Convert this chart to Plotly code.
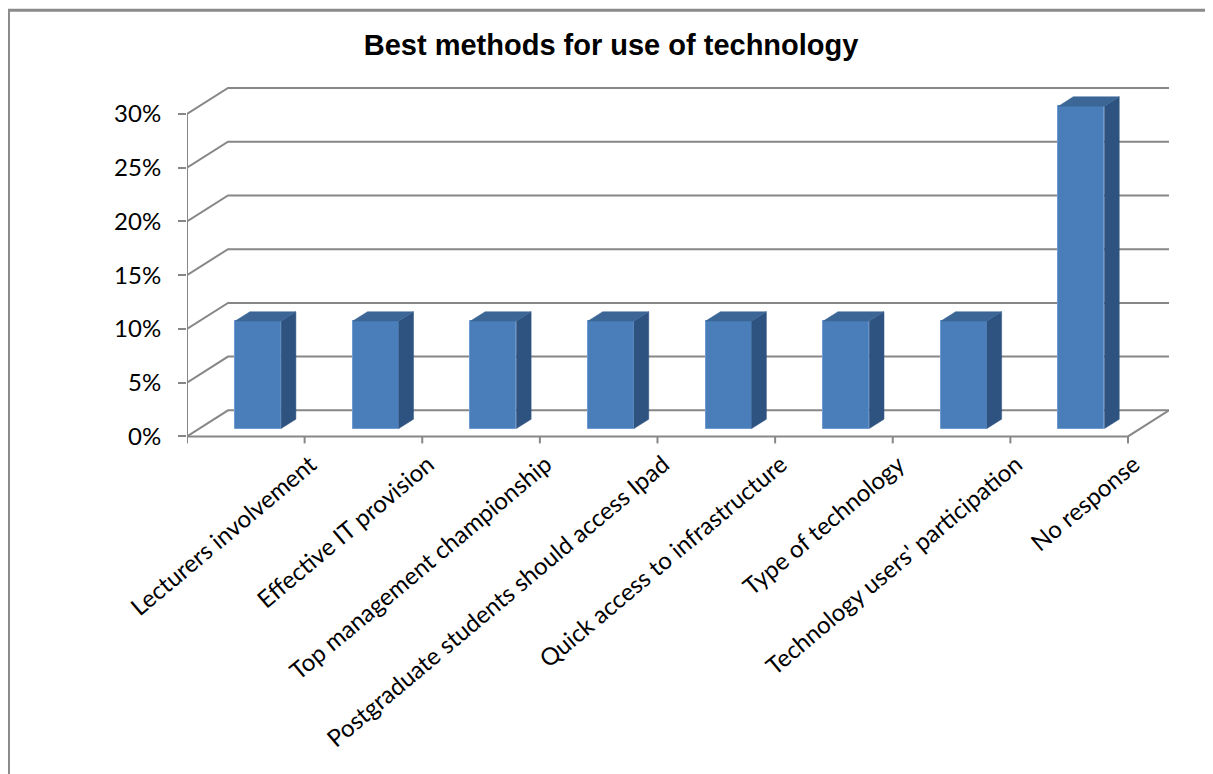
import plotly.graph_objects as go

categories = ["Lecturers involvement", "Effective IT provision", "Top management championship",
              "Postgraduate students should access Ipad", "Quick access to infrastructure",
              "Type of technology", "Technology users' participation", "No response"]
values = [10, 10, 10, 10, 10, 10, 10, 30]
y_ticks = [0, 5, 10, 15, 20, 25, 30]

OFF = 8                 # page body margin
W, H = 1213 - OFF, 774 - OFF
# pixel geometry of the pseudo-3D frame (page pixels minus body offset)
PX_L = 187.0 - OFF      # front-left axis
PX_CAT = 117.6          # px per category
PX_PER_PCT = 10.733     # px per 1%
PY_ZERO = 436.0 - OFF   # front floor y pixel
DEPTH_PX = (41.0, 26.0) # back wall offset (right, up)

n = len(categories)
DX = DEPTH_PX[0] / PX_CAT
DY = DEPTH_PX[1] / PX_PER_PCT
x_lo, x_hi = -0.5, n - 0.5 + DX
y_lo, y_hi = -0.8, 32.6
plot_w = (x_hi - x_lo) * PX_CAT
plot_h = (y_hi - y_lo) * PX_PER_PCT
m_l = PX_L
m_t = PY_ZERO - y_hi * PX_PER_PCT
m_r = W - m_l - plot_w
m_b = H - m_t - plot_h

GRID = "#878787"
FRONT = "#4a7ebb"
TOP = "#3b6696"
SIDE = "#2f5380"

fig = go.Figure()

def seg(xs, ys):
    path = "M " + " L ".join(f"{a},{b}" for a, b in zip(xs, ys))
    fig.add_shape(type="path", path=path, xref="x", yref="y", layer="below",
                  line=dict(color=GRID, width=2))

# back wall gridlines with left wall diagonals
for v in y_ticks:
    seg([x_lo, x_lo + DX, n - 0.5 + DX], [v, v + DY, v + DY])
# floor front edge and right diagonal
seg([x_lo, n - 0.5, n - 0.5 + DX], [0, 0, DY])
# front vertical axis line
seg([x_lo, x_lo], [0, max(y_ticks)])
# category boundary tick marks
for k in range(n + 1):
    seg([k - 0.5, k - 0.5], [0, -7 / PX_PER_PCT])

# bars: front depth t0, back depth t1
t0, t1 = 0.30, 0.66
half = 23.0 / PX_CAT
fig.add_trace(go.Bar(x=[i + t0 * DX for i in range(n)], y=values,
                     base=[t0 * DY] * n, width=2 * half,
                     marker=dict(color=FRONT, line=dict(color="#6d9bd1", width=1)),
                     showlegend=False, hovertext=categories))
for i, v in enumerate(values):
    cx = i + t0 * DX
    base = t0 * DY
    ddx = (t1 - t0) * DX
    ddy = (t1 - t0) * DY
    # side face
    fig.add_trace(go.Scatter(
        x=[cx + half, cx + half + ddx, cx + half + ddx, cx + half, cx + half],
        y=[base, base + ddy, base + v + ddy, base + v, base],
        mode="lines", fill="toself", fillcolor=SIDE, line=dict(color=SIDE, width=0.5),
        hoverinfo="skip", showlegend=False))
    # top face
    fig.add_trace(go.Scatter(
        x=[cx - half, cx + half, cx + half + ddx, cx - half + ddx, cx - half],
        y=[base + v, base + v, base + v + ddy, base + v + ddy, base + v],
        mode="lines", fill="toself", fillcolor=TOP, line=dict(color=TOP, width=0.5),
        hoverinfo="skip", showlegend=False))

def px2paper_x(px):
    return (px - OFF - m_l) / plot_w

def py2paper_y(py):
    return (m_t + plot_h - (py - OFF)) / plot_h

# outer chart border (left and top)
fig.add_shape(type="line", xref="paper", yref="paper",
              x0=px2paper_x(8.5), x1=px2paper_x(8.5), y0=py2paper_y(10), y1=py2paper_y(790),
              line=dict(color="#8a8a8a", width=3))
fig.add_shape(type="line", xref="paper", yref="paper",
              x0=px2paper_x(7), x1=px2paper_x(1225), y0=py2paper_y(10.5), y1=py2paper_y(10.5),
              line=dict(color="#8a8a8a", width=3))

fig.update_layout(
    width=W, height=H,
    margin=dict(l=m_l, r=m_r, t=m_t, b=m_b, autoexpand=False),
    paper_bgcolor="white", plot_bgcolor="white",
    title=dict(text="<b>Best methods for use of technology</b>", xref="paper",
               x=px2paper_x(611), xanchor="center", yref="container", y=1 - (45 - OFF) / H,
               yanchor="middle",
               font=dict(family="Liberation Sans, Arial", size=29, color="black")),
    xaxis=dict(range=[x_lo, x_hi], showgrid=False, zeroline=False, showline=False,
               tickmode="array", tickvals=[i + 0.55 for i in range(n)], ticktext=categories,
               tickangle=-40, ticks="", ticklen=0,
               tickfont=dict(family="Lato", size=24, color="black")),
    yaxis=dict(range=[y_lo, y_hi], showgrid=False, zeroline=False, showline=False,
               tickmode="array", tickvals=y_ticks, ticktext=[f"{t}%" for t in y_ticks],
               ticks="outside", ticklen=8, tickwidth=2, tickcolor=GRID,
               ticklabelstandoff=12,
               tickfont=dict(family="Lato", size=24, color="black")),
    bargap=0,
)

fig.write_html("out.html")
